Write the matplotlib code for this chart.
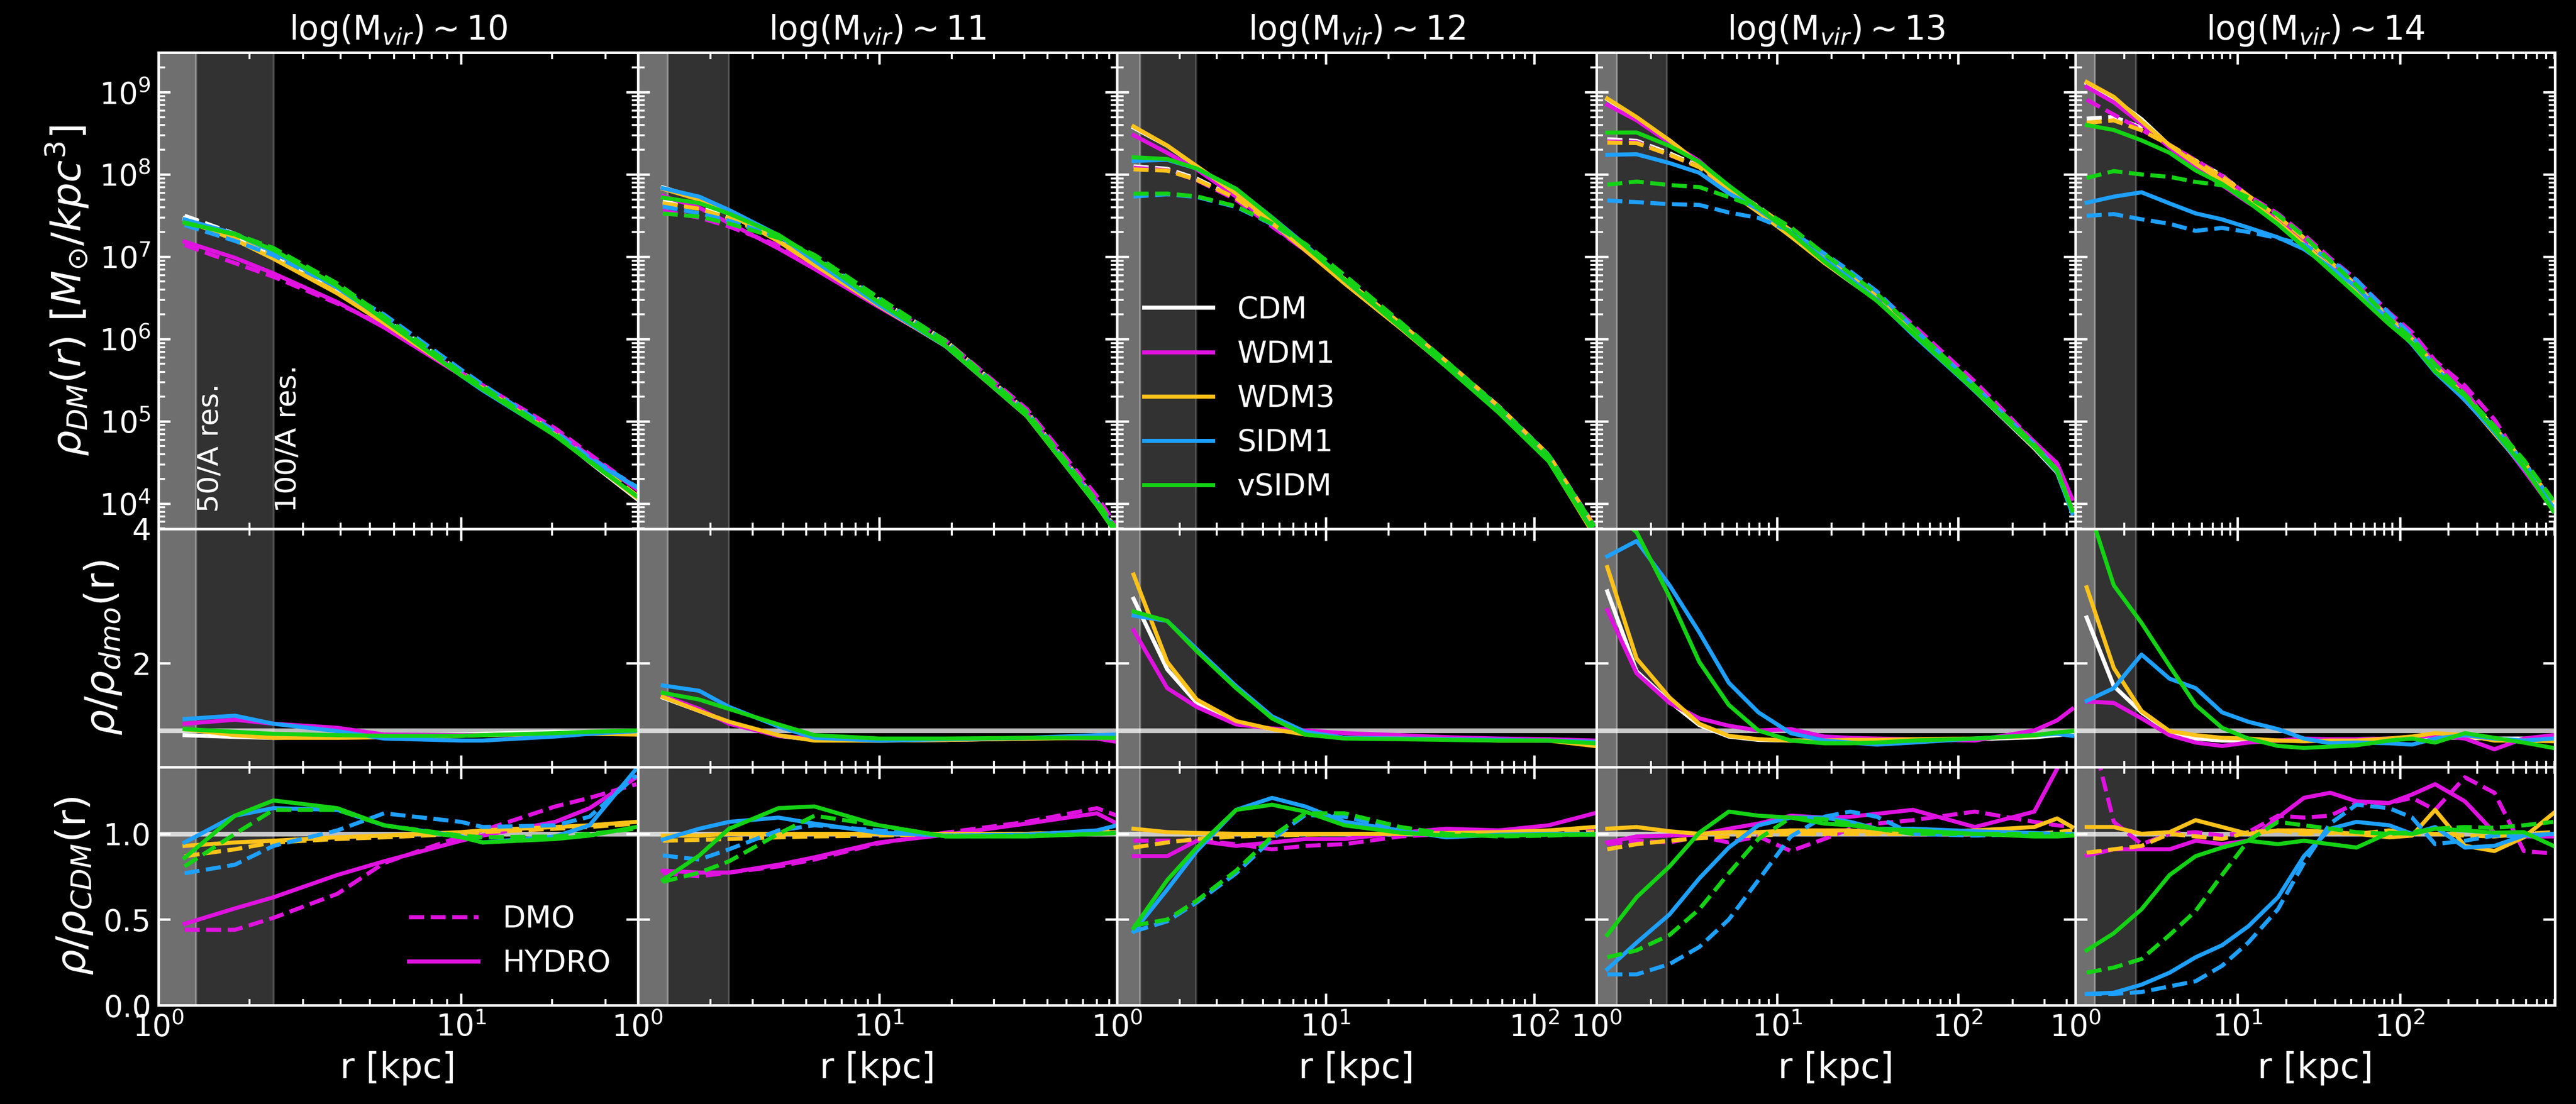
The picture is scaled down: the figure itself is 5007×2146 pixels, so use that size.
import numpy as np
import matplotlib
matplotlib.use('Agg')
import matplotlib.pyplot as plt
from matplotlib.lines import Line2D
from matplotlib.ticker import FormatStrFormatter
import matplotlib.transforms as mtransforms

# ---- datos ----
models = ['CDM', 'WDM1', 'WDM3', 'SIDM1', 'vSIDM']
titles = [r'log(M$_{vir}$)$\sim$10', r'log(M$_{vir}$)$\sim$11', r'log(M$_{vir}$)$\sim$12',
          r'log(M$_{vir}$)$\sim$13', r'log(M$_{vir}$)$\sim$14']
x_max = [38.4, 97.0, 198.0, 447.0, 905.0]
res50 = [1.33, 1.33, 1.29, 1.30, 1.32]
res100 = [2.40, 2.39, 2.39, 2.45, 2.37]

# logM ~ 10
r_m10 = [1.22, 1.79, 2.40, 3.90, 5.57, 10.0, 11.8, 20.5, 26.6, 38.0]
logrho_cdm_m10 = [7.50, 7.28, 7.05, 6.62, 6.25, 5.60, 5.43, 4.85, 4.52, 4.08]
hd_m10 = dict(CDM=[0.93, 0.905, 0.89, 0.90, 0.92, 0.94, 0.95, 0.98, 0.97, 0.96],
              WDM1=[1.10, 1.16, 1.10, 1.04, 0.94, 0.93, 0.93, 0.94, 0.95, 0.97],
              WDM3=[1.02, 0.93, 0.89, 0.89, 0.90, 0.92, 0.93, 0.95, 0.95, 0.94],
              SIDM1=[1.17, 1.22, 1.10, 0.99, 0.88, 0.85, 0.85, 0.91, 0.95, 0.99],
              vSIDM=[1.02, 0.98, 0.95, 0.93, 0.92, 0.92, 0.93, 0.96, 0.98, 1.00])
dmo_m10 = dict(WDM1=[0.44, 0.44, 0.51, 0.65, 0.83, 0.985, 1.02, 1.16, 1.21, 1.29],
               WDM3=[0.87, 0.91, 0.95, 0.97, 0.98, 1.00, 1.01, 1.03, 1.04, 1.06],
               SIDM1=[0.77, 0.82, 0.93, 1.02, 1.12, 1.07, 1.04, 1.05, 1.10, 1.34],
               vSIDM=[0.81, 1.00, 1.14, 1.14, 1.05, 0.99, 0.98, 0.985, 1.00, 1.03])
hyd_m10 = dict(WDM1=[0.475, 0.565, 0.63, 0.76, 0.84, 0.96, 0.99, 1.07, 1.15, 1.33],
               WDM3=[0.93, 0.95, 0.96, 0.98, 0.99, 1.01, 1.02, 1.04, 1.05, 1.07],
               SIDM1=[0.95, 1.106, 1.15, 1.14, 1.05, 0.985, 0.95, 0.985, 1.05, 1.38],
               vSIDM=[0.86, 1.106, 1.195, 1.15, 1.05, 0.98, 0.95, 0.97, 0.99, 1.04])

# logM ~ 11
r_m11 = [1.27, 1.80, 2.39, 3.83, 5.4, 10.0, 18.9, 41.0, 80.0, 97.0]
logrho_cdm_m11 = [7.67, 7.60, 7.48, 7.23, 6.98, 6.48, 5.98, 5.12, 4.03, 3.67]
hd_m11 = dict(CDM=[1.49, 1.29, 1.12, 0.92, 0.86, 0.85, 0.86, 0.88, 0.89, 0.90],
              WDM1=[1.52, 1.32, 1.10, 0.92, 0.88, 0.86, 0.87, 0.89, 0.88, 0.83],
              WDM3=[1.50, 1.29, 1.13, 0.93, 0.85, 0.85, 0.86, 0.88, 0.89, 0.89],
              SIDM1=[1.67, 1.59, 1.35, 1.06, 0.89, 0.85, 0.87, 0.89, 0.93, 0.94],
              vSIDM=[1.56, 1.46, 1.32, 1.09, 0.93, 0.88, 0.88, 0.89, 0.89, 0.89])
dmo_m11 = dict(WDM1=[0.774, 0.752, 0.774, 0.81, 0.85, 0.945, 1.007, 1.07, 1.15, 1.106],
               WDM3=[0.96, 0.965, 0.97, 0.98, 0.985, 0.99, 1.0, 1.0, 1.01, 1.02],
               SIDM1=[0.874, 0.85, 0.91, 1.02, 1.05, 1.02, 0.99, 0.995, 1.0, 1.007],
               vSIDM=[0.72, 0.774, 0.84, 1.0, 1.106, 1.05, 0.985, 0.99, 1.0, 1.005])
hyd_m11 = dict(WDM1=[0.785, 0.774, 0.774, 0.82, 0.863, 0.95, 0.995, 1.06, 1.12, 1.06],
               WDM3=[0.99, 0.99, 1.0, 1.0, 1.0, 1.0, 1.0, 1.0, 1.01, 1.01],
               SIDM1=[0.967, 1.03, 1.07, 1.095, 1.06, 1.007, 0.99, 0.995, 1.02, 1.05],
               vSIDM=[0.73, 0.874, 1.03, 1.15, 1.16, 1.05, 0.985, 0.985, 1.0, 1.005])

# logM ~ 12
r_m12 = [1.2, 1.74, 2.41, 3.72, 5.53, 7.97, 12.3, 22.8, 37.8, 67.6, 117.0, 194.0]
logrho_cdm_m12 = [8.10, 8.07, 7.95, 7.72, 7.41, 7.11, 6.73, 6.19, 5.73, 5.18, 4.59, 3.72]
hd_m12 = dict(CDM=[2.96, 1.91, 1.41, 1.11, 1.02, 0.96, 0.89, 0.88, 0.87, 0.86, 0.86, 0.83],
              WDM1=[2.49, 1.63, 1.35, 1.09, 1.03, 1.0, 0.96, 0.93, 0.90, 0.88, 0.87, 0.85],
              WDM3=[3.32, 2.02, 1.46, 1.14, 1.02, 0.94, 0.89, 0.88, 0.87, 0.85, 0.85, 0.77],
              SIDM1=[2.71, 2.63, 2.21, 1.66, 1.21, 0.98, 0.89, 0.88, 0.87, 0.86, 0.85, 0.83],
              vSIDM=[2.77, 2.63, 2.18, 1.63, 1.18, 0.94, 0.88, 0.87, 0.86, 0.85, 0.85, 0.81])
dmo_m12 = dict(WDM1=[0.96, 0.96, 0.96, 0.94, 0.91, 0.93, 0.94, 0.985, 1.0, 1.005, 1.01, 1.03],
               WDM3=[0.92, 0.95, 0.97, 0.985, 0.99, 0.995, 1.0, 1.0, 1.0, 1.0, 1.005, 1.01],
               SIDM1=[0.43, 0.49, 0.60, 0.77, 0.97, 1.11, 1.10, 1.03, 0.995, 0.99, 1.0, 1.0],
               vSIDM=[0.465, 0.50, 0.61, 0.785, 0.985, 1.12, 1.12, 1.04, 1.0, 0.985, 0.99, 1.0])
hyd_m12 = dict(WDM1=[0.87, 0.87, 0.96, 0.93, 0.95, 0.97, 0.97, 1.007, 1.03, 1.02, 1.05, 1.12],
               WDM3=[1.03, 1.01, 1.005, 1.0, 1.0, 1.0, 1.0, 1.0, 1.005, 1.01, 1.02, 1.04],
               SIDM1=[0.43, 0.675, 0.90, 1.14, 1.21, 1.16, 1.07, 1.02, 0.98, 0.995, 1.0, 1.0],
               vSIDM=[0.45, 0.73, 0.92, 1.14, 1.17, 1.13, 1.05, 1.007, 0.99, 0.99, 0.995, 0.995])

# logM ~ 13
r_m13 = [1.15, 1.67, 2.54, 3.71, 5.4, 7.87, 11.9, 18.2, 25.4, 35.5, 56.3, 124.0, 264.0, 353.0, 428.0]
logrho_cdm_m13 = [8.43, 8.41, 8.26, 8.10, 7.84, 7.61, 7.32, 7.00, 6.77, 6.54, 6.14, 5.43, 4.72, 4.41, 3.92]
hd_m13 = dict(CDM=[3.07, 1.88, 1.43, 1.08, 0.91, 0.86, 0.85, 0.85, 0.85, 0.86, 0.86, 0.87, 0.90, 0.93, 0.95],
              WDM1=[2.79, 1.85, 1.41, 1.18, 1.07, 1.0, 1.02, 0.91, 0.89, 0.88, 0.87, 0.85, 1.0, 1.15, 1.32],
              WDM3=[3.43, 2.07, 1.49, 1.10, 0.92, 0.87, 0.85, 0.85, 0.86, 0.86, 0.87, 0.88, 0.92, 0.97, 0.99],
              SIDM1=[3.59, 3.82, 3.16, 2.46, 1.71, 1.27, 0.96, 0.85, 0.82, 0.79, 0.82, 0.88, 0.93, 0.95, 0.92],
              vSIDM=[4.3, 3.95, 2.99, 2.02, 1.38, 1.0, 0.85, 0.81, 0.81, 0.82, 0.85, 0.88, 0.93, 0.97, 0.99])
dmo_m13 = dict(WDM1=[0.94, 0.96, 0.95, 0.985, 0.95, 0.985, 0.90, 0.97, 1.03, 1.06, 1.08, 1.13, 1.07, 1.05, 1.04],
               WDM3=[0.91, 0.94, 0.96, 0.975, 0.985, 0.99, 1.0, 1.0, 1.0, 1.0, 1.0, 1.0, 1.0, 1.01, 1.02],
               SIDM1=[0.18, 0.18, 0.24, 0.34, 0.50, 0.73, 0.985, 1.10, 1.13, 1.10, 1.0, 0.99, 1.0, 1.0, 1.0],
               vSIDM=[0.28, 0.32, 0.41, 0.56, 0.77, 0.97, 1.095, 1.085, 1.06, 1.03, 1.0, 1.0, 1.0, 1.0, 1.0])
hyd_m13 = dict(WDM1=[0.95, 0.985, 0.99, 0.995, 1.03, 1.06, 1.106, 1.095, 1.10, 1.117, 1.14, 1.04, 1.13, 1.38, 1.56],
               WDM3=[1.03, 1.04, 1.015, 1.0, 1.01, 1.01, 1.02, 1.02, 1.02, 1.01, 1.01, 1.02, 1.04, 1.09, 1.04],
               SIDM1=[0.21, 0.365, 0.53, 0.74, 0.92, 1.05, 1.095, 1.095, 1.07, 1.03, 1.03, 1.015, 1.005, 1.0, 1.0],
               vSIDM=[0.41, 0.63, 0.81, 1.007, 1.13, 1.106, 1.095, 1.06, 1.05, 1.03, 1.02, 1.0, 0.985, 0.985, 0.99])

# logM ~ 14
r_m14 = [1.17, 1.72, 2.55, 3.8, 5.5, 8.0, 11.6, 17.7, 25.6, 37.2, 54.0, 86.0, 119.0, 165.0, 252.0, 383.0, 582.0, 885.0]
logrho_cdm_m14 = [8.68, 8.70, 8.57, 8.36, 8.17, 7.99, 7.74, 7.48, 7.23, 6.94, 6.65, 6.25, 6.00, 5.68, 5.31, 4.93, 4.51, 4.01]
hd_m14 = dict(CDM=[2.68, 1.66, 1.27, 0.98, 0.88, 0.85, 0.85, 0.85, 0.86, 0.87, 0.87, 0.88, 0.88, 0.90, 0.89, 0.88, 0.88, 0.88],
              WDM1=[1.43, 1.41, 1.18, 0.93, 0.82, 0.77, 0.82, 0.85, 0.88, 0.87, 0.87, 0.88, 0.89, 0.93, 0.88, 0.72, 0.88, 0.93],
              WDM3=[3.13, 1.93, 1.29, 0.99, 0.93, 0.89, 0.88, 0.85, 0.84, 0.85, 0.85, 0.88, 0.91, 0.96, 0.93, 0.85, 0.85, 0.84],
              SIDM1=[1.44, 1.63, 2.13, 1.77, 1.63, 1.27, 1.13, 1.02, 0.88, 0.81, 0.82, 0.81, 0.79, 0.88, 0.93, 0.88, 0.85, 0.88],
              vSIDM=[4.4, 3.16, 2.6, 1.96, 1.38, 1.04, 0.88, 0.77, 0.74, 0.76, 0.78, 0.85, 0.88, 0.82, 0.96, 0.89, 0.82, 0.74])
dmo_m14 = dict(WDM1=[1.7, 1.07, 0.94, 1.0, 1.01, 0.99, 1.01, 1.106, 1.095, 1.106, 1.18, 1.18, 1.21, 1.14, 1.33, 1.24, 0.90, 0.885],
               WDM3=[0.89, 0.91, 0.93, 1.0, 0.985, 0.97, 1.01, 1.02, 1.0, 1.005, 1.0, 1.02, 1.0, 1.0, 0.99, 0.985, 1.0, 1.01],
               SIDM1=[0.066, 0.066, 0.077, 0.11, 0.14, 0.23, 0.365, 0.56, 0.83, 1.06, 1.17, 1.15, 1.095, 0.94, 0.96, 0.99, 0.985, 1.0],
               vSIDM=[0.19, 0.22, 0.27, 0.41, 0.55, 0.76, 0.96, 1.07, 1.05, 1.03, 1.01, 1.0, 1.01, 1.03, 1.04, 1.035, 1.05, 1.07])
hyd_m14 = dict(WDM1=[0.874, 0.91, 0.91, 0.91, 0.96, 0.94, 0.96, 1.095, 1.21, 1.24, 1.19, 1.18, 1.23, 1.29, 1.19, 1.007, 0.985, 0.985],
               WDM3=[1.04, 1.04, 1.0, 1.01, 1.08, 1.04, 1.0, 1.02, 1.02, 1.01, 1.0, 0.98, 0.99, 1.14, 0.93, 0.90, 0.98, 1.12],
               SIDM1=[0.066, 0.073, 0.12, 0.19, 0.28, 0.35, 0.46, 0.63, 0.87, 1.03, 1.07, 1.05, 1.0, 1.04, 0.92, 0.93, 0.99, 1.0],
               vSIDM=[0.32, 0.42, 0.56, 0.76, 0.87, 0.92, 0.96, 0.94, 0.96, 0.94, 0.92, 1.007, 1.0, 1.03, 1.02, 1.007, 1.01, 0.93])

columns = [(r_m10, logrho_cdm_m10, hd_m10, dmo_m10, hyd_m10),
           (r_m11, logrho_cdm_m11, hd_m11, dmo_m11, hyd_m11),
           (r_m12, logrho_cdm_m12, hd_m12, dmo_m12, hyd_m12),
           (r_m13, logrho_cdm_m13, hd_m13, dmo_m13, hyd_m13),
           (r_m14, logrho_cdm_m14, hd_m14, dmo_m14, hyd_m14)]

colores = {'CDM': 'white', 'WDM1': '#e012e0', 'WDM3': '#ffc21a', 'SIDM1': '#1ea0ff', 'vSIDM': '#14d214'}
LW = 1.9
FS_TICK = 14

plt.rcParams['font.family'] = ['DejaVu Sans']
plt.rcParams['mathtext.fontset'] = 'dejavusans'

fig = plt.figure(figsize=(5007 / 300, 2146 / 300), dpi=300, facecolor='black')
gs = fig.add_gridspec(3, 5, height_ratios=[2, 1, 1], hspace=0, wspace=0,
                      left=308 / 5007, right=4966 / 5007, top=1 - 102 / 2146, bottom=1 - 1954 / 2146)


def estilo(ax):
    ax.set_facecolor('black')
    for s in ax.spines.values():
        s.set_color('white')
        s.set_linewidth(1.2)
    ax.tick_params(which='both', direction='in', top=True, right=True, colors='white',
                   labelsize=FS_TICK, labelcolor='white')
    ax.tick_params(which='major', length=5.5, width=1.1)
    ax.tick_params(which='minor', length=3, width=0.9)


def bandas(ax, j):
    ax.axvspan(0.5, res50[j], color='white', alpha=0.3, lw=1, zorder=0)
    ax.axvspan(0.5, res100[j], color='white', alpha=0.2, lw=1, zorder=0)


for j, (r, logrho, hd, dmo, hyd) in enumerate(columns):
    r = np.array(r)
    rho_cdm = 10 ** np.array(logrho)
    ax0 = fig.add_subplot(gs[0, j])
    ax1 = fig.add_subplot(gs[1, j], sharex=ax0)
    ax2 = fig.add_subplot(gs[2, j], sharex=ax0)

    # panel de densidad
    for m in models:
        rho_d = rho_cdm if m == 'CDM' else rho_cdm * np.array(dmo[m])
        rho_h = rho_d * np.array(hd[m])
        ax0.plot(r, rho_d, ls='--', color=colores[m], lw=LW)
        ax0.plot(r, rho_h, ls='-', color=colores[m], lw=LW, label=m)
    ax0.set_yscale('log')
    ax0.set_ylim(4.94e3, 3.05e9)

    # hydro / dmo
    ax1.axhline(1, color='white', alpha=0.75, lw=2.2, zorder=1)
    for m in models:
        ax1.plot(r, hd[m], color=colores[m], lw=LW)
    ax1.set_ylim(0.456, 4.0)
    ax1.set_yticks([2, 4])

    # cociente con CDM
    ax2.axhline(1, color='white', alpha=0.75, lw=2.2, zorder=1)
    for m in models[1:]:
        ax2.plot(r, dmo[m], ls='--', color=colores[m], lw=LW)
        ax2.plot(r, hyd[m], ls='-', color=colores[m], lw=LW)
    ax2.set_ylim(0, 1.39)
    ax2.set_yticks([0.0, 0.5, 1.0])
    ax2.yaxis.set_major_formatter(FormatStrFormatter('%.1f'))

    for ax in (ax0, ax1, ax2):
        ax.set_xscale('log')
        bandas(ax, j)
        estilo(ax)
        if j > 0:
            ax.tick_params(labelleft=False)
    ax0.set_xlim(1, x_max[j])
    ax0.tick_params(labelbottom=False)
    ax1.tick_params(labelbottom=False)
    ax2.set_xlabel('r [kpc]', color='white', fontsize=16.5)
    ax0.set_title(titles[j], color='white', fontsize=15.5)

    if j == 0:
        ax0.set_ylabel(r'$\rho_{DM}(r)$ $[M_{\odot}/kpc^3]$', color='white', fontsize=19)
        ax1.set_ylabel(r'$\rho/\rho_{dmo}$(r)', color='white', fontsize=19)
        ax2.set_ylabel(r'$\rho/\rho_{CDM}$(r)', color='white', fontsize=19)
        tr = mtransforms.blended_transform_factory(ax0.transData, ax0.transAxes)
        ax0.text(res50[j] * 1.12, 0.035, '50/A res.', rotation=90, transform=tr,
                 ha='center', va='bottom', color='white', fontsize=13.5)
        ax0.text(res100[j] * 1.12, 0.035, '100/A res.', rotation=90, transform=tr,
                 ha='center', va='bottom', color='white', fontsize=13.5)
        h_leg = [Line2D([], [], color=colores['WDM1'], ls='--', lw=LW),
                 Line2D([], [], color=colores['WDM1'], ls='-', lw=LW)]
        leg = ax2.legend(h_leg, ['DMO', 'HYDRO'], loc='lower right', frameon=False,
                         fontsize=14, handlelength=2.3, handletextpad=0.8)
        for t in leg.get_texts():
            t.set_color('white')
    if j == 2:
        leg = ax0.legend(loc='lower left', frameon=False, fontsize=14,
                         handlelength=2.3, handletextpad=0.8)
        for t in leg.get_texts():
            t.set_color('white')

fig.savefig('out.png', dpi=300, facecolor='black')
